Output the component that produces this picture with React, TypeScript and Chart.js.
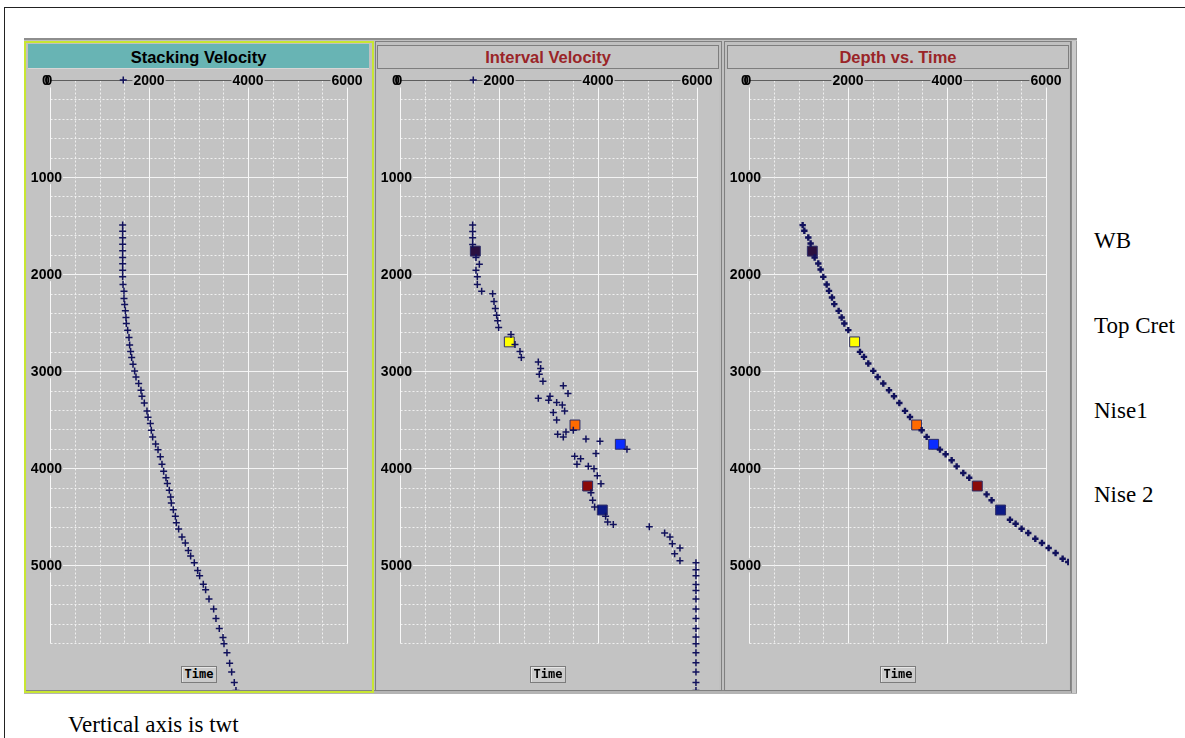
import React, { useEffect, useRef } from "react";
import { Chart, registerables } from "chart.js";

Chart.register(...registerables);

// ---------- DATA ----------
const X_TICKS = [0, 2000, 4000, 6000];
const Y_TICKS = [1000, 2000, 3000, 4000, 5000];
const X_MAX = 6000;
const Y_MAX = 5800;

// Stacking velocity (time ms, velocity m/s)
const STACK_TIME = [0, 1495, 1557, 1625, 1691, 1759, 1828, 1893, 1959, 2028, 2107, 2175, 2251, 2313, 2378, 2447, 2509, 2577, 2653, 2729, 2797, 2859, 2928, 2997, 3059, 3127, 3196, 3258, 3327, 3409, 3475, 3540, 3609, 3677, 3750, 3808, 3880, 3959, 4031, 4097, 4158, 4227, 4296, 4358, 4427, 4495, 4561, 4626, 4708, 4770, 4846, 4904, 4973, 5052, 5107, 5196, 5251, 5348, 5451, 5547, 5650, 5743, 5808, 5901, 6008, 6100, 6207, 6289];
const STACK_VEL = [1480, 1468, 1468, 1468, 1468, 1468, 1468, 1468, 1468, 1468, 1475, 1495, 1495, 1508, 1522, 1535, 1542, 1569, 1596, 1609, 1629, 1650, 1677, 1710, 1737, 1791, 1838, 1858, 1905, 1959, 1980, 2027, 2047, 2074, 2134, 2182, 2229, 2262, 2296, 2343, 2370, 2410, 2437, 2451, 2491, 2532, 2552, 2599, 2666, 2734, 2794, 2841, 2915, 2983, 3023, 3097, 3144, 3212, 3306, 3353, 3420, 3495, 3515, 3575, 3629, 3670, 3723, 3757];

// Interval velocity (time ms, velocity m/s)
const INT_TIME = [0, 1495, 1560, 1625, 1694, 1828, 1897, 1959, 2028, 2107, 2175, 2203, 2282, 2354, 2423, 2481, 2550, 2622, 2725, 2797, 2859, 2904, 2973, 3031, 3103, 3151, 3230, 3279, 3258, 3299, 3323, 3347, 3409, 3426, 3502, 3609, 3626, 3650, 3677, 3698, 3722, 3804, 3849, 3877, 3901, 3959, 3980, 4004, 4076, 4159, 4251, 4330, 4399, 4495, 4554, 4578, 4602, 4667, 4708, 4777, 4822, 4880, 4952, 4973, 5045, 5107, 5197, 5258, 5348, 5451, 5547, 5650, 5739, 5808, 5901, 6004, 6100, 6207, 6289];
const INT_VEL = [1480, 1468, 1468, 1468, 1468, 1535, 1603, 1535, 1562, 1562, 1650, 1872, 1899, 1926, 1953, 1973, 1993, 2242, 2323, 2424, 2451, 2794, 2841, 2814, 2888, 3299, 3394, 2794, 3030, 3003, 3165, 3279, 3326, 3097, 3165, 3501, 3353, 3185, 3299, 3757, 4040, 4585, 3959, 3528, 3649, 3575, 3804, 3919, 3986, 4060, 3858, 3892, 3932, 4154, 4195, 4309, 5036, 5346, 5454, 5501, 5656, 5548, 5656, 5979, 5979, 5979, 5979, 5979, 5979, 5979, 5979, 5979, 5979, 5979, 5979, 5979, 5979, 5979, 5979];

// Depth vs time (time ms, depth m)
const DEPTH_TIME = [1495, 1553, 1622, 1684, 1828, 1890, 1952, 2028, 2107, 2172, 2241, 2309, 2378, 2447, 2509, 2577, 2801, 2852, 2921, 2997, 3059, 3127, 3196, 3258, 3327, 3409, 3471, 3609, 3677, 3808, 3856, 3918, 3980, 4049, 4097, 4269, 4330, 4530, 4571, 4623, 4667, 4726, 4770, 4822, 4873, 4932, 4966];
const DEPTH_VAL = [1084, 1118, 1198, 1245, 1326, 1400, 1447, 1501, 1569, 1616, 1676, 1723, 1811, 1872, 1926, 2006, 2242, 2323, 2410, 2511, 2599, 2713, 2828, 2929, 3037, 3151, 3252, 3488, 3589, 3858, 3972, 4094, 4195, 4329, 4450, 4800, 4901, 5272, 5386, 5507, 5642, 5784, 5918, 6053, 6194, 6336, 6450];

// Horizon picks
const HORIZON_TIME = [1763, 2698, 3554, 3753, 4183, 4430];
const HORIZON_INT_VEL = [1522, 2208, 3535, 4451, 3791, 4087];
const HORIZON_DEPTH = [1279, 2134, 3387, 3730, 4612, 5083];
const HORIZON_COLORS = ["#2a1040", "#ffff00", "#ff6a00", "#0a2cff", "#8b0a0a", "#0c1a86"];
const HORIZON_LABELS = ["WB", "Top Cret", "Nise1", "Nise 2"];
const HORIZON_LABEL_TOP = [229, 314, 399, 483];

// ---------- layout helpers ----------
const BG = "#c3c3c3";
const CANVAS_H = 621;
const PAD_LEFT = 23;
const PAD_TOP = 11;
const GRID_W = 297; // pixels spanned by 0..X_MAX
const GRID_H = 563; // pixels spanned by 0..Y_MAX

const zip = (xs: number[], ys: number[]) =>
  xs.slice(0, Math.min(xs.length, ys.length)).map((x, i) => ({ x, y: ys[i] }));

const gridPlugin = {
  id: "panelGrid",
  beforeDraw(chart: any) {
    const { ctx, width, height } = chart;
    ctx.save();
    ctx.fillStyle = BG;
    ctx.fillRect(0, 0, width, height);
    ctx.restore();
  },
  beforeDatasetsDraw(chart: any) {
    const { ctx, chartArea: a, scales } = chart;
    const xs = scales.x;
    const ys = scales.y;
    const x0 = Math.round(xs.getPixelForValue(0)) + 0.5;
    const x1 = Math.round(xs.getPixelForValue(X_MAX)) + 0.5;
    const yTop = Math.round(ys.getPixelForValue(0)) + 0.5;
    const yBot = Math.round(ys.getPixelForValue(Y_MAX)) + 0.5;
    ctx.save();
    ctx.lineWidth = 1;
    for (let t = 200; t <= Y_MAX; t += 200) {
      const py = Math.round(ys.getPixelForValue(t)) + 0.5;
      const major = t % 1000 === 0;
      ctx.setLineDash(major ? [] : [2, 2]);
      ctx.strokeStyle = major ? "#f4f4f4" : "#f0f0f0";
      ctx.beginPath();
      ctx.moveTo(x0, py);
      ctx.lineTo(x1, py);
      ctx.stroke();
    }
    for (let v = 0; v <= X_MAX; v += 500) {
      const px = Math.round(xs.getPixelForValue(v)) + 0.5;
      const major = v % 2000 === 0;
      ctx.setLineDash(major ? [] : [2, 2]);
      ctx.strokeStyle = major ? "#f8f8f8" : "#f0f0f0";
      ctx.beginPath();
      ctx.moveTo(px, yTop);
      ctx.lineTo(px, yBot);
      ctx.stroke();
    }
    ctx.setLineDash([]);
    ctx.strokeStyle = "#5e5e5e";
    ctx.beginPath();
    ctx.moveTo(x0, yTop);
    ctx.lineTo(x1 + 8, yTop);
    ctx.stroke();

    ctx.font = 'bold 14px "Liberation Sans", Arial, sans-serif';
    ctx.textBaseline = "middle";
    const label = (text: string, cx: number, cy: number, align: "center" | "right") => {
      const w = ctx.measureText(text).width;
      const left = align === "center" ? cx - w / 2 : cx - w;
      ctx.fillStyle = BG;
      ctx.fillRect(left - 1, cy - 7, w + 2, 14);
      ctx.fillStyle = "#000";
      ctx.textAlign = "left";
      ctx.fillText(text, left, cy + 1);
    };
    X_TICKS.forEach((v) => {
      const px = xs.getPixelForValue(v);
      if (v === 0) {
        label("0", px - 4, yTop, "center");
        ctx.fillText("0", px - 1.5 - ctx.measureText("0").width / 2, yTop + 0.5);
      } else {
        label(String(v), px, yTop, "center");
      }
    });
    Y_TICKS.forEach((t) => {
      const py = ys.getPixelForValue(t);
      label(String(t), a.left + 12, py, "right");
    });
    ctx.restore();
  },
};

type PanelProps = {
  left: number;
  width: number;
  datasets: any[];
};

function PanelChart({ left, width, datasets }: PanelProps) {
  const ref = useRef<HTMLCanvasElement | null>(null);
  useEffect(() => {
    if (!ref.current) return;
    const xViewMax = (X_MAX * (width - PAD_LEFT)) / GRID_W;
    const yViewMax = (Y_MAX * (CANVAS_H - PAD_TOP)) / GRID_H;
    const chart = new Chart(ref.current, {
      type: "scatter",
      data: { datasets },
      options: {
        responsive: false,
        animation: false,
        devicePixelRatio: 1,
        events: [],
        layout: { autoPadding: false, padding: { left: PAD_LEFT, right: 0, top: PAD_TOP, bottom: 0 } },
        plugins: { legend: { display: false }, tooltip: { enabled: false } },
        scales: {
          x: { type: "linear", min: 0, max: xViewMax, display: false },
          y: { type: "linear", min: 0, max: yViewMax, reverse: true, display: false },
        },
      },
      plugins: [gridPlugin],
    } as any);
    return () => chart.destroy();
  }, []);
  return (
    <canvas
      ref={ref}
      width={width}
      height={CANVAS_H}
      style={{ position: "absolute", left, top: 69, width, height: CANVAS_H, display: "block" }}
    />
  );
}

const crossSet = (data: { x: number; y: number }[], bw: number, r: number) => ({
  data,
  pointStyle: "cross",
  pointRadius: r,
  borderColor: "#11115c",
  backgroundColor: "#11115c",
  pointBorderWidth: bw,
  borderWidth: bw,
  showLine: false,
  clip: false,
});

const horizonSet = (xs: number[]) => ({
  data: zip(xs, HORIZON_TIME),
  pointStyle: "rect",
  pointRadius: 7,
  pointBackgroundColor: HORIZON_COLORS,
  pointBorderColor: "#2c2c66",
  pointBorderWidth: 1,
  showLine: false,
  clip: false,
});

function TimeBox({ cx }: { cx: number }) {
  return (
    <div
      style={{
        position: "absolute",
        left: cx - 18,
        top: 666,
        width: 34,
        height: 15,
        border: "1px solid #7c7c7c",
        background: "#cbcbcb",
        boxShadow: "inset 1px 1px 0 #e6e6e6",
        font: 'bold 12px "DejaVu Sans Mono", monospace',
        lineHeight: "15px",
        textAlign: "center",
        color: "#000",
      }}
    >
      Time
    </div>
  );
}

const titleText = (color: string, lh: number): React.CSSProperties => ({
  font: 'bold 16.5px "Liberation Sans", Arial, sans-serif',
  color,
  textAlign: "center",
  lineHeight: lh + "px",
});

export default function App() {
  return (
    <div
      style={{
        position: "absolute",
        left: 0,
        top: 0,
        width: 1185,
        height: 738,
        background: "#fff",
        overflow: "hidden",
        fontFamily: '"Liberation Serif", "Times New Roman", serif',
      }}
    >
      <div style={{ position: "absolute", left: 4, top: 7, width: 1200, height: 800, borderTop: "1px solid #222", borderLeft: "1px solid #222" }} />
      <div style={{ position: "absolute", left: 24, top: 38, width: 1053, height: 656, background: "#c0c0c0", borderTop: "2px solid #8e8e8e", boxSizing: "border-box" }} />
      <div style={{ position: "absolute", left: 24, top: 690, width: 1053, height: 4, background: "#b4b4b4", borderTop: "1px solid #858585", boxSizing: "border-box" }} />
      <div style={{ position: "absolute", left: 1071, top: 41, width: 6, height: 652, background: "#c9c9c9", borderLeft: "1px solid #8a8a8a", borderRight: "1px solid #9a9a9a", boxSizing: "border-box" }} />

      <div style={{ position: "absolute", left: 24, top: 41, width: 350, height: 652, border: "2px solid #c8e632", boxSizing: "border-box" }} />
      <div style={{ position: "absolute", left: 28, top: 44, width: 341, height: 24, background: "#68b4b4", borderBottom: "1px solid #d6d6d6", ...titleText("#000", 27) }}>
        Stacking Velocity
      </div>

      <div style={{ position: "absolute", left: 375, top: 41, width: 347, height: 650, border: "1px solid #808080", boxSizing: "border-box" }} />
      <div style={{ position: "absolute", left: 377, top: 45, width: 342, height: 24, background: "#c4c4c4", border: "1px solid #7e7e7e", boxSizing: "border-box", ...titleText("#9a2428", 23) }}>
        Interval Velocity
      </div>

      <div style={{ position: "absolute", left: 724, top: 41, width: 347, height: 650, border: "1px solid #808080", boxSizing: "border-box" }} />
      <div style={{ position: "absolute", left: 727, top: 45, width: 342, height: 24, background: "#c4c4c4", border: "1px solid #7e7e7e", boxSizing: "border-box", ...titleText("#9a2428", 23) }}>
        Depth vs. Time
      </div>

      <PanelChart left={27} width={344} datasets={[crossSet(zip(STACK_VEL, STACK_TIME), 1.5, 3.5)]} />
      <PanelChart
        left={377}
        width={342}
        datasets={[crossSet(zip(INT_VEL, INT_TIME), 1.5, 3.5), horizonSet(HORIZON_INT_VEL)]}
      />
      <PanelChart
        left={726}
        width={343}
        datasets={[crossSet(zip(DEPTH_VAL, DEPTH_TIME), 2.4, 3.2), horizonSet(HORIZON_DEPTH)]}
      />

      <TimeBox cx={199} />
      <TimeBox cx={548} />
      <TimeBox cx={898} />

      {HORIZON_LABELS.map((name, i) => (
        <div
          key={name}
          style={{ position: "absolute", left: 1094, top: HORIZON_LABEL_TOP[i], fontSize: 23, lineHeight: "23px", whiteSpace: "nowrap", color: "#000" }}
        >
          {name}
        </div>
      ))}
      <div style={{ position: "absolute", left: 68, top: 713, fontSize: 23, lineHeight: "23px", whiteSpace: "nowrap", color: "#000" }}>
        Vertical axis is twt
      </div>
    </div>
  );
}
